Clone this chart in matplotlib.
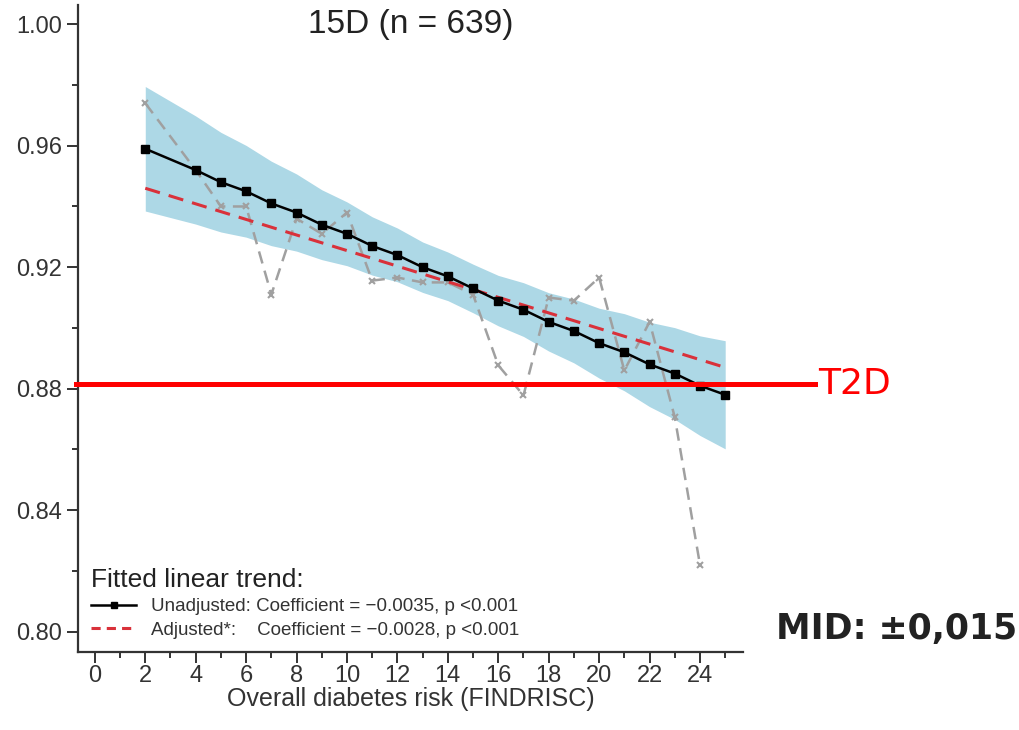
import matplotlib.pyplot as plt
import numpy as np
from matplotlib.lines import Line2D
from matplotlib.ticker import MultipleLocator, FormatStrFormatter

# FINDRISC score (no respondents with score 3)
findrisc = [2, 4, 5, 6, 7, 8, 9, 10, 11, 12, 13, 14, 15, 16, 17, 18, 19, 20, 21, 22, 23, 24, 25]

# Fitted unadjusted trend
unadjusted = [0.959, 0.952, 0.948, 0.945, 0.941, 0.938, 0.934, 0.931, 0.927, 0.924, 0.920, 0.917,
              0.913, 0.909, 0.906, 0.902, 0.899, 0.895, 0.892, 0.888, 0.885, 0.881, 0.878]

# Confidence band of the unadjusted trend
band_upper = [0.9795, 0.9698, 0.9644, 0.9601, 0.9549, 0.9507, 0.9455, 0.9415, 0.9366, 0.9329, 0.9283, 0.9250,
              0.9210, 0.9173, 0.9149, 0.9116, 0.9095, 0.9065, 0.9047, 0.9019, 0.9001, 0.8974, 0.8958]
band_lower = [0.9385, 0.9342, 0.9316, 0.9299, 0.9271, 0.9253, 0.9225, 0.9205, 0.9174, 0.9152, 0.9117, 0.9090,
              0.9050, 0.9007, 0.8972, 0.8924, 0.8885, 0.8835, 0.8793, 0.8741, 0.8699, 0.8646, 0.8602]

# Adjusted trend (straight line, endpoints)
adjusted_x = [2, 25]
adjusted = [0.946, 0.887]

# Observed mean 15D per score
observed_x = [2, 4, 5, 6, 7, 8, 9, 10, 11, 12, 13, 14, 15, 16, 17, 18, 19, 20, 21, 22, 23, 24]
observed = [0.974, 0.952, 0.940, 0.940, 0.911, 0.936, 0.931, 0.938, 0.9156, 0.9166, 0.915, 0.915,
            0.911, 0.8877, 0.8778, 0.910, 0.909, 0.9166, 0.886, 0.902, 0.8706, 0.822]

t2d_value = 0.8815

labels = ["Unadjusted: Coefficient = \u22120.0035, p <0.001",
          "Adjusted*:    Coefficient = \u22120.0028, p <0.001"]

plt.rcParams['font.family'] = ['Liberation Sans', 'DejaVu Sans']

fig = plt.figure(figsize=(10.19, 7.30), dpi=100)
ax = fig.add_axes([0.0765, 0.1068, 0.6525, 0.8862])

ax.fill_between(findrisc, band_lower, band_upper, color='lightblue', linewidth=0, zorder=1)
ax.plot(observed_x, observed, color='#a0a0a0', linestyle=(0, (5, 3)), linewidth=1.8,
        marker='x', markersize=5, markeredgewidth=1.5, zorder=2)
ax.plot(adjusted_x, adjusted, color='#d9313a', linestyle=(0, (5, 3)), linewidth=2.2, zorder=3)
ax.plot(findrisc, unadjusted, color='black', linewidth=1.8, marker='s', markersize=6, zorder=4)

# T2D reference line, running past the axes
trans = ax.get_yaxis_transform()
ax.plot([-0.003, 1.108], [t2d_value, t2d_value], color='#ff0000', linewidth=3.6,
        transform=trans, clip_on=False, zorder=5)
fig.text(0.803, 0.474, "T2D", color='#ff0000', fontsize=26, family='DejaVu Sans', va='center')
fig.text(0.7615, 0.138, "MID: \u00b10,015", color='#222222', fontsize=25, fontweight='bold',
         family='DejaVu Sans', va='center')

ax.set_xlim(-0.67, 25.7)
ax.set_ylim(0.7933, 1.0063)
ax.xaxis.set_major_locator(MultipleLocator(2))
ax.xaxis.set_minor_locator(MultipleLocator(1))
ax.yaxis.set_major_locator(MultipleLocator(0.04))
ax.yaxis.set_minor_locator(MultipleLocator(0.02))
ax.yaxis.set_major_formatter(FormatStrFormatter('%.2f'))

for side in ['top', 'right']:
    ax.spines[side].set_visible(False)
for side in ['left', 'bottom']:
    ax.spines[side].set_color('#333333')
    ax.spines[side].set_linewidth(1.6)

ax.tick_params(which='major', length=8, width=1.4, color='#333333', labelsize=17, labelcolor='#333333')
ax.tick_params(which='minor', length=4.5, width=1.4, color='#333333')
ax.tick_params(axis='x', pad=1)

ax.set_xlabel("Overall diabetes risk (FINDRISC)", fontsize=18, color='#333333', labelpad=0)
ax.set_title("15D (n = 639)", fontsize=24, color='#222222', y=0.944)

handles = [Line2D([], [], color='black', linewidth=1.8, marker='s', markersize=5),
           Line2D([], [], color='#d9313a', linestyle=(0, (3, 2)), linewidth=2.2)]
leg = ax.legend(handles, labels, loc='lower left', bbox_to_anchor=(0.0, 0.0),
                title="Fitted linear trend:", title_fontsize=19, fontsize=13.5,
                alignment='left', frameon=True, facecolor='white', edgecolor='none', framealpha=1,
                handlelength=2.4, handletextpad=0.8, labelspacing=0.35, borderaxespad=0.3)
leg.get_frame().set_boxstyle('square', pad=0)
for text in leg.get_texts():
    text.set_color('#333333')
leg.get_title().set_color('#222222')
leg.set_zorder(6)

fig.savefig("out.png", dpi=100)
